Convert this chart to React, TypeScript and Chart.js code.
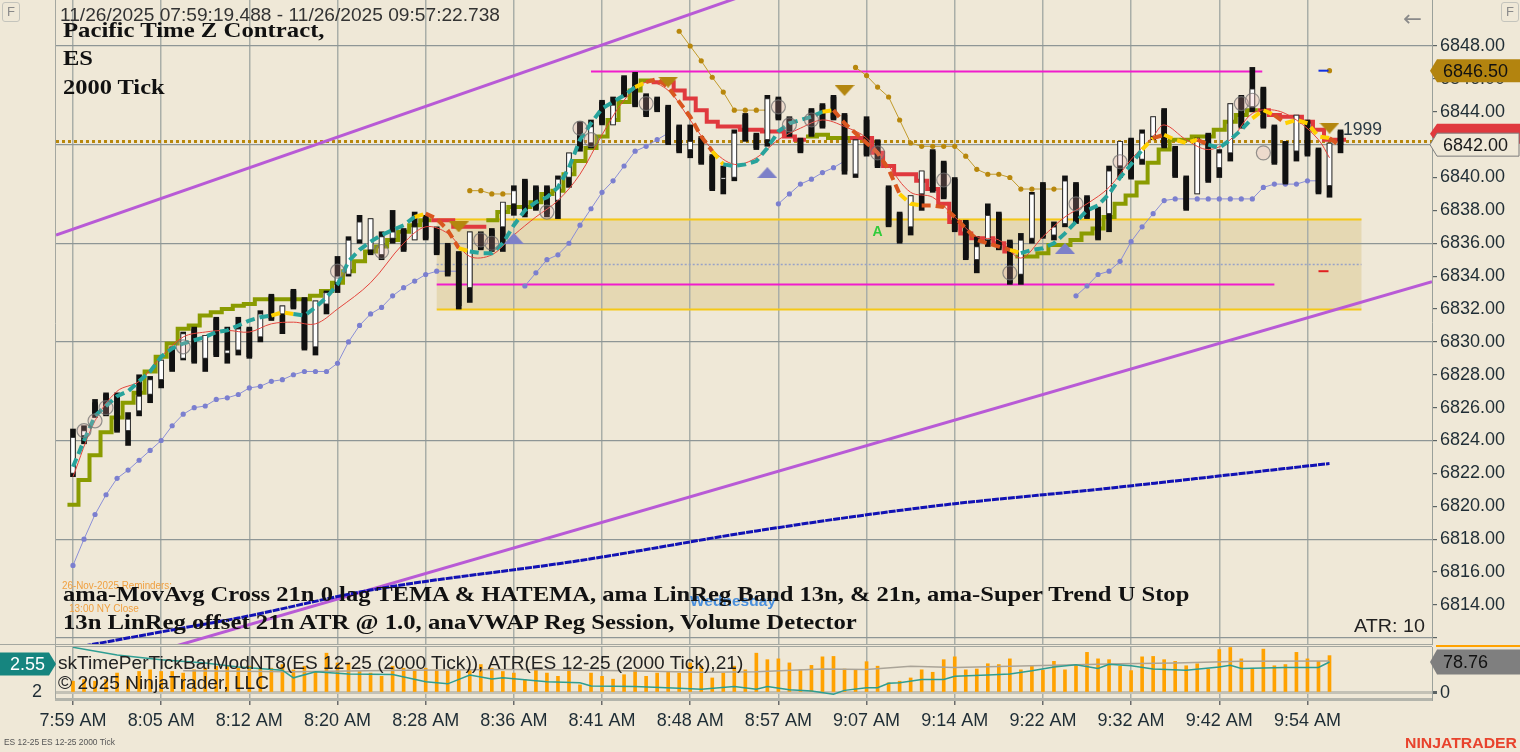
import React, { useEffect, useRef } from 'react';
import { Chart, registerables } from 'chart.js';

Chart.register(...registerables);

const BG = '#efe8d7';
const SANS = "'Liberation Sans', Arial, sans-serif";
const SERIF = "'Liberation Serif', 'Times New Roman', serif";

// ---------------- data ----------------
const timeLabels = ['7:59 AM', '8:05 AM', '8:12 AM', '8:20 AM', '8:28 AM', '8:36 AM', '8:41 AM', '8:48 AM', '8:57 AM', '9:07 AM', '9:14 AM', '9:22 AM', '9:32 AM', '9:42 AM', '9:54 AM'];
const timeLabelBars = [0, 8, 16, 24, 32, 40, 48, 56, 64, 72, 80, 88, 96, 104, 112];
const priceTicks = [6812, 6814, 6816, 6818, 6820, 6822, 6824, 6826, 6828, 6830, 6832, 6834, 6836, 6838, 6840, 6842, 6844, 6846, 6848];
const priceGridLevels = [6812, 6818, 6824, 6830, 6836, 6842, 6848];

const opens = [6822.0, 6824.3, 6826.3, 6826.8, 6826.8, 6824.6, 6825.8, 6826.8, 6827.7, 6829.6,
  6829.0, 6830.8, 6829.0, 6831.4, 6829.3, 6829.5, 6830.8, 6830.3, 6832.8, 6831.7,
  6833.1, 6832.6, 6829.7, 6832.3, 6833.6, 6834.1, 6836.2, 6835.6, 6835.3, 6836.3,
  6836.8, 6836.2, 6837.6, 6836.9, 6835.9, 6835.4, 6833.3, 6836.6, 6836.8, 6837.0,
  6838.4, 6839.8, 6839.4, 6839.4, 6838.6, 6840.0, 6843.3, 6842.1, 6844.6, 6843.2,
  6846.1, 6846.3, 6845.0, 6844.8, 6844.3, 6843.1, 6841.7, 6842.4, 6841.3, 6839.9,
  6840.0, 6843.8, 6842.6, 6842.3, 6844.8, 6843.6, 6842.3, 6844.1, 6844.4, 6844.9,
  6843.8, 6840.2, 6843.5, 6842.2, 6839.4, 6837.8, 6837.0, 6839.0, 6841.6, 6840.9,
  6839.9, 6837.3, 6835.0, 6836.2, 6837.8, 6836.1, 6834.1, 6836.3, 6839.6, 6836.5,
  6837.2, 6839.6, 6838.8, 6838.1, 6837.8, 6840.7, 6842.3, 6841.1, 6842.5, 6844.1,
  6841.8, 6840.0, 6839.0, 6842.6, 6840.6, 6841.5, 6844.9, 6844.3, 6845.4, 6843.1,
  6842.1, 6841.6, 6843.4, 6841.7, 6839.5, 6842.8];
const highs = [6824.7, 6824.9, 6826.5, 6826.9, 6826.9, 6825.7, 6828.0, 6827.9, 6828.9, 6829.7,
  6830.6, 6830.9, 6830.4, 6831.5, 6830.9, 6831.5, 6830.9, 6831.9, 6832.9, 6832.2,
  6833.2, 6832.7, 6832.5, 6833.1, 6835.2, 6836.4, 6837.7, 6837.5, 6836.7, 6838.0,
  6836.9, 6837.9, 6837.7, 6837.0, 6836.0, 6835.5, 6836.7, 6836.7, 6836.9, 6838.5,
  6839.5, 6839.9, 6839.5, 6839.5, 6840.1, 6841.5, 6843.4, 6843.5, 6844.7, 6844.9,
  6846.2, 6846.4, 6845.1, 6844.9, 6844.4, 6843.2, 6843.2, 6842.5, 6841.4, 6840.7,
  6842.9, 6843.9, 6842.7, 6845.0, 6844.9, 6843.7, 6842.4, 6844.2, 6844.5, 6845.0,
  6843.9, 6842.3, 6843.7, 6842.3, 6839.5, 6837.9, 6838.9, 6840.4, 6841.7, 6841.0,
  6840.0, 6837.4, 6836.4, 6838.4, 6837.9, 6836.2, 6836.6, 6839.1, 6839.7, 6837.3,
  6840.1, 6839.7, 6838.9, 6838.2, 6840.7, 6842.2, 6842.4, 6842.9, 6843.7, 6844.2,
  6841.9, 6840.1, 6842.4, 6842.7, 6841.7, 6844.5, 6845.0, 6846.7, 6845.5, 6843.2,
  6842.2, 6843.8, 6843.5, 6841.8, 6842.1, 6842.9];
const lows = [6821.8, 6823.8, 6825.4, 6825.5, 6824.5, 6823.7, 6825.5, 6826.3, 6827.2, 6828.2,
  6828.9, 6828.7, 6828.2, 6829.1, 6828.7, 6829.2, 6829.0, 6830.0, 6831.3, 6830.5,
  6832.0, 6829.5, 6829.2, 6831.7, 6833.0, 6834.0, 6836.0, 6835.3, 6835.0, 6836.0,
  6835.5, 6836.2, 6836.2, 6835.3, 6834.0, 6832.0, 6832.4, 6835.6, 6835.5, 6835.5,
  6837.7, 6837.6, 6838.0, 6837.6, 6837.5, 6839.4, 6841.6, 6841.8, 6843.2, 6843.2,
  6844.9, 6844.3, 6843.7, 6844.0, 6842.0, 6841.5, 6841.2, 6840.8, 6839.2, 6839.0,
  6839.8, 6842.2, 6841.7, 6841.9, 6843.5, 6842.5, 6841.5, 6842.5, 6843.0, 6843.5,
  6840.2, 6840.0, 6841.3, 6840.6, 6837.0, 6836.0, 6836.5, 6838.0, 6839.1, 6838.7,
  6836.7, 6835.0, 6834.2, 6835.8, 6835.6, 6833.5, 6833.5, 6836.0, 6836.3, 6836.2,
  6837.0, 6837.2, 6837.5, 6836.2, 6836.7, 6840.0, 6839.9, 6840.8, 6842.3, 6841.8,
  6840.0, 6838.0, 6839.0, 6839.7, 6840.0, 6841.0, 6843.0, 6844.0, 6843.0, 6840.8,
  6839.6, 6841.0, 6841.3, 6839.0, 6838.8, 6841.5];
const closes = [6824.2, 6824.6, 6825.6, 6825.6, 6824.6, 6825.3, 6826.7, 6827.7, 6828.9, 6828.3,
  6830.5, 6828.8, 6830.4, 6829.2, 6829.5, 6830.8, 6829.1, 6831.7, 6831.4, 6832.2,
  6832.1, 6829.6, 6832.5, 6833.0, 6834.0, 6836.2, 6837.3, 6837.5, 6836.4, 6836.7,
  6835.6, 6837.0, 6836.3, 6835.4, 6834.1, 6832.2, 6836.7, 6835.7, 6835.6, 6838.5,
  6839.2, 6837.8, 6838.1, 6837.8, 6839.9, 6841.5, 6841.8, 6843.1, 6843.3, 6844.4,
  6845.0, 6844.4, 6843.8, 6844.1, 6842.1, 6841.6, 6842.2, 6840.9, 6839.3, 6840.0,
  6842.7, 6842.3, 6841.8, 6844.8, 6843.6, 6842.6, 6841.6, 6842.6, 6843.1, 6843.6,
  6840.4, 6842.3, 6841.4, 6840.7, 6837.1, 6836.1, 6838.9, 6840.4, 6839.2, 6838.8,
  6836.8, 6835.1, 6835.8, 6837.7, 6835.7, 6833.6, 6836.2, 6839.0, 6836.4, 6837.0,
  6839.8, 6837.3, 6837.6, 6836.3, 6840.4, 6842.2, 6840.0, 6842.7, 6843.7, 6841.9,
  6840.1, 6838.1, 6842.4, 6839.8, 6841.5, 6844.5, 6843.1, 6845.4, 6843.1, 6840.9,
  6839.7, 6843.8, 6841.4, 6839.1, 6842.1, 6842.0];

// Super Trend U Stop (g = up / olive, r = down / red)
const superTrend = [6820.1, 6821.6, 6823.1, 6824.5, 6825.4, 6826.3, 6826.9, 6828.2, 6829.1, 6829.9,
  6830.8, 6831.0, 6831.6, 6831.8, 6832.0, 6832.2, 6832.3, 6832.6, 6832.6, 6832.6,
  6832.6, 6832.6, 6832.8, 6833.1, 6833.6, 6834.3, 6834.9, 6835.5, 6835.8, 6836.2,
  6836.7, 6837.1, 6837.4, 6837.4, 6837.4, 6837.0, 6837.0, 6837.0, 6837.4, 6837.9,
  6838.2, 6838.2, 6838.5, 6839.0, 6839.2, 6840.2, 6841.0, 6841.8, 6842.5, 6843.5,
  6844.6, 6845.3, 6845.9, 6845.8, 6845.8, 6845.3, 6844.8, 6844.1, 6843.4, 6843.1,
  6843.1, 6842.9, 6842.9, 6842.8, 6842.8, 6842.5, 6842.3, 6842.5, 6842.6, 6842.4,
  6842.4, 6842.4, 6842.4, 6841.5, 6840.7, 6840.2, 6840.2, 6839.8, 6839.3, 6838.4,
  6837.3, 6836.6, 6836.3, 6836.3, 6836.0, 6835.5, 6835.2, 6835.2, 6835.4, 6835.9,
  6835.9, 6836.2, 6836.6, 6836.9, 6837.6, 6838.4, 6838.9, 6839.7, 6840.9, 6841.7,
  6842.3, 6842.3, 6842.5, 6842.5, 6842.9, 6843.4, 6843.8, 6844.1, 6844.1, 6843.8,
  6843.7, 6843.7, 6843.4, 6842.9, 6842.3, 6842.3];
const superTrendDir =
  'ggggggggggggggggggggggggggggggggg' + 'rrrrr' + 'ggggggggggggggg' + 'rrrrrrrrrrrrrr' +
  'gggg' + 'rrrrrrrrrrrrrrr' + 'gggggggggggggggggggggg' + 'rrrrrrrr';

// 21n zero-lag TEMA (t = rising teal, o = falling orange, y = flat yellow)
const tema = [6822.4, 6824.0, 6825.5, 6826.1, 6826.7, 6827.0, 6827.6, 6828.2, 6829.1, 6829.6,
  6829.9, 6830.1, 6830.3, 6830.6, 6830.7, 6831.0, 6831.3, 6831.5, 6831.6, 6831.8,
  6831.7, 6831.6, 6832.1, 6832.7, 6833.5, 6834.9, 6835.6, 6836.1, 6836.5, 6836.8,
  6837.1, 6837.6, 6837.8, 6837.5, 6836.8, 6835.7, 6835.5, 6835.4, 6835.4, 6836.0,
  6837.1, 6838.0, 6838.5, 6838.8, 6839.4, 6840.6, 6842.3, 6843.3, 6844.2, 6844.6,
  6845.0, 6845.5, 6845.8, 6846.0, 6845.5, 6844.6, 6843.7, 6842.5, 6841.6, 6840.8,
  6840.7, 6840.8, 6841.0, 6841.8, 6842.8, 6843.3, 6843.5, 6843.7, 6844.0, 6844.1,
  6843.3, 6842.7, 6842.1, 6841.5, 6840.5, 6839.0, 6838.4, 6838.3, 6838.3, 6838.2,
  6837.6, 6836.9, 6836.2, 6836.0, 6835.8, 6835.6, 6835.4, 6835.6, 6835.7, 6836.0,
  6836.6, 6837.3, 6838.0, 6838.3, 6839.0, 6840.0, 6840.8, 6841.7, 6842.4, 6842.6,
  6842.3, 6842.1, 6842.3, 6842.0, 6841.8, 6842.3, 6842.9, 6843.6, 6844.1, 6843.8,
  6843.3, 6843.5, 6843.3, 6842.5, 6842.4, 6841.9];
const temaDir =
  'ttttttttttttttttttt' + 'yy' + 'ttttttttttt' + 'y' + 'ooo' + 'y' + 'ttttttttttttttt' + 'y' +
  'oooooo' + 'y' + 'ttttttttt' + 'y' + 'oooooo' + 'yy' + 'oooooooo' + 'y' + 'ttttttttttt' + 'y' +
  'o' + 'yyy' + 'o' + 'tttt' + 'yy' + 'o' + 'yyyy' + 'o';

// 13n LinReg (thin red)
const linRegBars = [0, 2, 4, 6, 8, 10, 12, 14, 16, 18, 20, 22, 24, 27, 30, 32, 34, 36, 38, 40, 42, 44, 46, 48, 50, 52, 54, 56, 58, 60, 62, 64, 66, 68, 70, 72, 74, 76, 78, 80, 82, 84, 86, 88, 90, 92, 94, 96, 98, 99, 101, 103, 105, 107, 109, 111, 113, 114];
const linRegValues = [6821.8, 6825.2, 6827.0, 6827.6, 6829.1, 6830.3, 6830.6, 6830.7, 6830.6, 6831.1, 6831.2, 6831.1, 6832.0, 6833.6, 6836.0, 6837.0, 6836.6, 6835.2, 6835.3, 6836.5, 6837.6, 6838.6, 6840.2, 6842.6, 6844.7, 6845.8, 6845.3, 6843.5, 6841.7, 6840.8, 6841.2, 6842.3, 6843.0, 6843.5, 6843.1, 6842.4, 6840.7, 6839.1, 6838.8, 6837.6, 6836.4, 6836.2, 6835.1, 6836.4, 6837.6, 6838.4, 6839.4, 6841.1, 6842.5, 6843.2, 6842.3, 6841.7, 6842.3, 6843.9, 6844.1, 6843.5, 6842.3, 6841.2];

// trailing stop dots
const lowerStop = [6816.4, 6818.0, 6819.5, 6820.7, 6821.7, 6822.2, 6822.8, 6823.4, 6824.0, 6824.9,
  6825.6, 6826.0, 6826.1, 6826.5, 6826.6, 6826.8, 6827.2, 6827.3, 6827.6, 6827.7,
  6828.0, 6828.2, 6828.2, 6828.2, 6828.7, 6830.0, 6831.0, 6831.7, 6832.1, 6832.8,
  6833.3, 6833.7, 6834.1, 6834.3, 6834.3, 6834.3, null, null, null, null,
  null, 6833.4, 6834.2, 6835.0, 6835.3, 6836.0, 6837.1, 6838.1, 6839.1, 6839.8,
  6840.7, 6841.6, 6841.9, 6842.3, 6842.7, null, null, null, null, null,
  null, null, null, null, 6838.4, 6839.0, 6839.6, 6839.9, 6840.3, 6840.6,
  6841.0, null, null, null, null, null, null, null, null, null,
  null, null, null, null, null, null, null, null, null, null,
  null, 6832.8, 6833.4, 6834.1, 6834.3, 6834.9, 6836.1, 6837.0, 6837.8, 6838.6,
  6838.7, 6838.7, 6838.7, 6838.7, 6838.7, 6838.7, 6838.7, 6838.7, 6839.4, 6839.6,
  6839.6, 6839.6, 6839.8, 6839.8, null, null];
const upperStop = [null, null, null, null, null, null, null, null, null, null,
  null, null, null, null, null, null, null, null, null, null,
  null, null, null, null, null, null, null, null, null, null,
  null, null, null, null, null, null, 6839.2, 6839.2, 6839.0, 6839.0,
  6839.0, null, null, null, null, null, null, null, null, null,
  null, null, null, null, null, 6848.9, 6848.0, 6847.1, 6846.1, 6845.2,
  6844.1, 6844.1, 6844.1, 6844.1, null, null, null, null, null, null,
  null, 6846.7, 6846.2, 6845.5, 6844.9, 6843.5, 6842.1, 6841.9, 6841.9, 6841.9,
  6841.9, 6841.3, 6840.5, 6840.2, 6840.2, 6840.0, 6839.3, 6839.3, 6839.3, 6839.3,
  6839.3, null, null, null, null, null, null, null, null, null,
  null, null, null, null, null, null, null, null, null, null,
  null, null, null, null, 6846.5, null];

// anaVWAP
const vwapBars = [1, 10, 15, 27, 46, 62, 78, 94, 114];
const vwapValues = [6811.5, 6812.6, 6813.2, 6814.9, 6816.7, 6818.5, 6820.0, 6821.1, 6822.6];

// channel lines
const upperChannelBars = [-1.54, 70];
const upperChannelValues = [6836.5, 6853.2];
const lowerChannelBars = [5, 123.3];
const lowerChannelValues = [6810.66, 6833.67];

// zone and levels
const zoneBars = [33.0, 116.9];
const zonePrices = [6837.5, 6832.0];
const zoneMidPrice = 6834.75;
const magentaTopBars = [47.0, 107.9];
const magentaTopPrice = 6846.5;
const magentaBottomBars = [33.0, 109.0];
const magentaBottomPrice = 6833.5;
const goldLevel = 6842.2;
const volumeMarkBar = 114;
const volumeMarkHigh = 6846.5;
const volumeMarkLow = 6834.3;

// signals
const downSignalBars = [35, 54, 70, 114];
const downSignalPrices = [6837.0, 6845.8, 6845.3, 6843.0];
const upSignalBars = [40, 63, 90];
const upSignalPrices = [6836.3, 6840.3, 6835.7];
const letterSignalBar = 73;
const letterSignalPrice = 6836.7;
const ringBars = [1, 2, 3, 10, 24, 28, 37, 38, 43, 46, 47, 52, 64, 65, 67, 73, 79, 85, 91, 95, 106, 107, 108];
const ringPrices = [6824.6, 6825.2, 6826.0, 6829.7, 6834.3, 6835.5, 6836.2, 6836.0, 6837.9, 6843.0, 6842.3, 6844.5, 6844.3, 6843.2, 6843.5, 6841.5, 6839.85, 6834.2, 6838.4, 6840.96, 6844.5, 6844.7, 6841.5];

// lower panel
const timePerTick = [29, 33, 29, 33, 49, 33, 53, 57, 53, 53,
  49, 57, 61, 66, 66, 61, 66, 61, 61, 70,
  57, 66, 53, 98, 74, 74, 53, 49, 41, 66,
  61, 57, 61, 57, 57, 57, 57, 70, 61, 53,
  49, 33, 57, 49, 41, 57, 20, 49, 41, 34,
  45, 56, 41, 49, 53, 49, 74, 66, 37, 49,
  66, 57, 98, 82, 84, 74, 57, 68, 89, 90,
  59, 57, 77, 66, 25, 29, 37, 57, 51, 82,
  89, 57, 59, 72, 70, 84, 57, 67, 56, 78,
  57, 70, 100, 84, 82, 66, 55, 89, 90, 82,
  78, 67, 72, 59, 107, 112, 84, 61, 108, 67,
  70, 100, 84, 78, 92];
const atrBars = [0, 4, 8, 12, 15, 19, 20, 22, 25, 29, 32, 34, 36, 38, 39, 43, 46, 47, 51, 55, 57, 60, 62, 63, 65, 67, 69, 70, 72, 73, 74, 75, 77, 79, 80, 83, 85, 87, 89, 91, 93, 94, 96, 98, 101, 104, 105, 106, 110, 113, 114];
const atrValues = [2.82, 2.68, 2.59, 2.53, 2.46, 2.40, 2.26, 2.37, 2.33, 2.32, 2.19, 2.15, 2.31, 2.24, 2.26, 2.19, 2.17, 2.11, 2.10, 2.07, 2.05, 2.10, 2.05, 2.10, 2.04, 2.02, 1.96, 2.03, 2.08, 2.08, 2.16, 2.17, 2.23, 2.23, 2.29, 2.31, 2.33, 2.39, 2.46, 2.50, 2.43, 2.51, 2.48, 2.42, 2.40, 2.46, 2.49, 2.43, 2.45, 2.45, 2.55];
const avgBars = [10, 20, 30, 40, 50, 57, 62, 68, 72, 76, 80, 87, 95, 100, 106, 114];
const avgValues = [55, 52, 56, 58, 55, 51, 52, 59, 58, 66, 63, 67, 72, 74, 78, 78.76];

// ---------------- helpers ----------------
const X_MIN = -1.54;
const X_MAX = 123.3;
const Y_MIN = 6811.56;
const Y_MAX = 6850.8;

const temaColors: Record<string, string> = { t: '#27a39c', o: '#d9561f', y: '#ffd000' };

function stepPoints(dir: string) {
  const pts: any[] = [];
  for (let i = 0; i < superTrend.length; i++) {
    if (superTrendDir[i] === dir) {
      pts.push({ x: i - 0.5, y: superTrend[i] }, { x: i + 0.5, y: superTrend[i] });
    } else if (pts.length && pts[pts.length - 1].y !== null) {
      pts.push({ x: i, y: null });
    }
  }
  return pts;
}

function triImg(color: string, down: boolean) {
  const c = document.createElement('canvas');
  c.width = 20;
  c.height = 11;
  const g = c.getContext('2d')!;
  g.fillStyle = color;
  g.beginPath();
  if (down) {
    g.moveTo(0, 0); g.lineTo(20, 0); g.lineTo(10, 11);
  } else {
    g.moveTo(10, 0); g.lineTo(20, 11); g.lineTo(0, 11);
  }
  g.closePath();
  g.fill();
  return c;
}

function tag(ctx: CanvasRenderingContext2D, tip: number, end: number, yc: number, h: number, fill: string, stroke: string | null, text: string, color: string, textX: number) {
  const notch = end > tip ? 7 : -7;
  ctx.save();
  ctx.beginPath();
  ctx.moveTo(tip, yc);
  ctx.lineTo(tip + notch, yc - h / 2);
  ctx.lineTo(end, yc - h / 2);
  ctx.lineTo(end, yc + h / 2);
  ctx.lineTo(tip + notch, yc + h / 2);
  ctx.closePath();
  ctx.fillStyle = fill;
  ctx.fill();
  if (stroke) {
    ctx.strokeStyle = stroke;
    ctx.lineWidth = 1;
    ctx.stroke();
  }
  if (text) {
    ctx.fillStyle = color;
    ctx.font = `18px ${SANS}`;
    ctx.textBaseline = 'middle';
    ctx.textAlign = 'left';
    ctx.fillText(text, textX, yc + 1);
  }
  ctx.restore();
}

const noVPad = (s: any) => { s.paddingTop = 0; s.paddingBottom = 0; };

const pricePlugin = {
  id: 'priceDecor',
  beforeDraw(chart: any) {
    const { ctx, scales } = chart;
    const x = scales.x, y = scales.y;
    const x0 = x.getPixelForValue(zoneBars[0]);
    const x1 = x.getPixelForValue(zoneBars[1]);
    const y0 = y.getPixelForValue(zonePrices[0]);
    const y1 = y.getPixelForValue(zonePrices[1]);
    ctx.save();
    ctx.fillStyle = '#e5d8b3';
    ctx.fillRect(x0, y0, x1 - x0, y1 - y0);
    ctx.restore();
  },
  beforeDatasetsDraw(chart: any) {
    const { ctx, chartArea: a, scales } = chart;
    const x = scales.x, y = scales.y;
    ctx.save();
    ctx.beginPath();
    ctx.rect(a.left, a.top, a.right - a.left, a.bottom - a.top);
    ctx.clip();
    const hline = (b0: number, b1: number, p: number, color: string, w: number, dash: number[]) => {
      const py = Math.round(y.getPixelForValue(p)) + 0.5;
      ctx.beginPath();
      ctx.setLineDash(dash);
      ctx.strokeStyle = color;
      ctx.lineWidth = w;
      ctx.moveTo(x.getPixelForValue(b0), py);
      ctx.lineTo(x.getPixelForValue(b1), py);
      ctx.stroke();
    };
    hline(zoneBars[0], zoneBars[1], zonePrices[0], '#f5c816', 2, []);
    hline(zoneBars[0], zoneBars[1], zonePrices[1], '#f5c816', 2, []);
    hline(zoneBars[0], zoneBars[1], zoneMidPrice, '#98a2c8', 1.5, [2, 2]);
    hline(magentaTopBars[0], magentaTopBars[1], magentaTopPrice, '#f01ccc', 2, []);
    hline(magentaBottomBars[0], magentaBottomBars[1], magentaBottomPrice, '#f01ccc', 2, []);
    hline(X_MIN, X_MAX, goldLevel, '#b8870c', 3, [3, 3]);
    ctx.restore();
  },
  afterDatasetsDraw(chart: any) {
    const { ctx, scales } = chart;
    const x = scales.x, y = scales.y;
    ctx.save();
    const mx = x.getPixelForValue(volumeMarkBar);
    ctx.lineWidth = 2;
    ctx.strokeStyle = '#1030e0';
    ctx.beginPath();
    ctx.moveTo(mx - 11, y.getPixelForValue(volumeMarkHigh));
    ctx.lineTo(mx - 1, y.getPixelForValue(volumeMarkHigh));
    ctx.stroke();
    ctx.strokeStyle = '#e02020';
    ctx.beginPath();
    ctx.moveTo(mx - 11, y.getPixelForValue(volumeMarkLow));
    ctx.lineTo(mx - 1, y.getPixelForValue(volumeMarkLow));
    ctx.stroke();
    ctx.fillStyle = '#2fcc3a';
    ctx.font = `bold 14px ${SANS}`;
    ctx.textAlign = 'center';
    ctx.textBaseline = 'middle';
    ctx.fillText('A', x.getPixelForValue(letterSignalBar), y.getPixelForValue(letterSignalPrice));
    ctx.restore();
  },
  afterDraw(chart: any) {
    const { ctx, chartArea: a, scales } = chart;
    const y = scales.y;
    const lastClose = closes[closes.length - 1];
    const lastStop = superTrend[superTrend.length - 1];
    const lastMark = upperStop[upperStop.length - 2] as number;
    tag(ctx, a.right - 2, 1520, y.getPixelForValue(lastStop) - 6, 20, '#e0393e', null, '', '#000', 0);
    tag(ctx, a.right - 2, 1519, y.getPixelForValue(lastClose), 23, BG, '#7d7d7d', lastClose.toFixed(2), '#1a1a1a', 1443);
    tag(ctx, a.right - 2, 1520, y.getPixelForValue(lastMark), 23, '#b3840f', null, lastMark.toFixed(2), '#111', 1443);
    ctx.save();
    ctx.strokeStyle = '#a4a7a0';
    ctx.lineWidth = 1;
    ctx.beginPath();
    ctx.moveTo(55.5, 0);
    ctx.lineTo(55.5, a.bottom + 2);
    ctx.stroke();
    ctx.restore();
  },
};

const lowerPlugin = {
  id: 'lowerDecor',
  afterDraw(chart: any) {
    const { ctx, chartArea: a, scales } = chart;
    ctx.save();
    ctx.strokeStyle = '#a4a7a0';
    ctx.lineWidth = 1;
    ctx.beginPath();
    ctx.moveTo(0, a.top - 2.5); ctx.lineTo(a.right, a.top - 2.5);
    ctx.moveTo(a.left, a.top - 0.5); ctx.lineTo(a.right, a.top - 0.5);
    ctx.moveTo(55.5, a.top - 3); ctx.lineTo(55.5, a.bottom);
    ctx.stroke();
    ctx.restore();
    const lastAtr = atrValues[atrValues.length - 1];
    const lastAvg = avgValues[avgValues.length - 1];
    const yR = scales.yR, yL = scales.yL;
    tag(ctx, a.right - 2, 1520, yR.getPixelForValue(lastAvg) + 1, 25, '#7f7f7f', null, lastAvg.toFixed(2), '#111', 1443);
    ctx.save();
    ctx.fillStyle = '#ffa200';
    ctx.fillRect(a.right + 4, a.top - 2, 1520 - a.right - 4, 2);
    ctx.restore();
    tag(ctx, a.left, 0, yL.getPixelForValue(lastAtr) + 2, 23, '#16857f', null, lastAtr.toFixed(2), '#ffffff', 10);
  },
};

function priceConfig(): any {
  const idx = opens.map((_, i) => i);
  const downTri = triImg('#b3860f', true);
  const upTri = triImg('#7d80c8', false);
  return {
    type: 'bar',
    data: {
      datasets: [
        {
          type: 'line', order: 0, showLine: false,
          data: downSignalBars.map((b, k) => ({ x: b, y: downSignalPrices[k] })),
          pointStyle: downTri, pointRadius: 6,
        },
        {
          type: 'line', order: 0, showLine: false,
          data: upSignalBars.map((b, k) => ({ x: b, y: upSignalPrices[k] })),
          pointStyle: upTri, pointRadius: 6,
        },
        {
          type: 'line', order: 1, showLine: false,
          data: ringBars.map((b, k) => ({ x: b, y: ringPrices[k] })),
          pointRadius: 7, pointBorderWidth: 1.2,
          pointBorderColor: 'rgba(115,115,115,0.75)', pointBackgroundColor: 'rgba(232,170,170,0.22)',
        },
        {
          type: 'line', order: 2,
          data: idx.map((i) => ({ x: i, y: tema[i] })),
          borderWidth: 4, borderDash: [9, 5], pointRadius: 0, borderColor: temaColors.t,
          segment: { borderColor: (c: any) => temaColors[temaDir[c.p1DataIndex]] },
        },
        {
          type: 'line', order: 3,
          data: linRegBars.map((b, k) => ({ x: b, y: linRegValues[k] })),
          borderWidth: 1, borderColor: '#e4453d', pointRadius: 0, tension: 0.35,
        },
        {
          type: 'bar', order: 4, grouped: false, barThickness: 5, borderSkipped: false,
          data: idx.map((i) => ({ x: i, y: [opens[i], closes[i]] })),
          backgroundColor: idx.map((i) => (closes[i] >= opens[i] ? '#ffffff' : '#111111')),
          borderColor: '#3a3a3a',
          borderWidth: idx.map((i) => (closes[i] >= opens[i] ? 1 : 0)),
        },
        {
          type: 'bar', order: 5, grouped: false, barThickness: 5,
          data: idx.map((i) => ({ x: i, y: [lows[i], highs[i]] })),
          backgroundColor: '#111111',
        },
        {
          type: 'line', order: 6, data: stepPoints('g'), borderColor: '#8a9b00', borderWidth: 4,
          pointRadius: 0, spanGaps: false, borderJoinStyle: 'miter',
        },
        {
          type: 'line', order: 7, data: stepPoints('r'), borderColor: '#e0393e', borderWidth: 4,
          pointRadius: 0, spanGaps: false, borderJoinStyle: 'miter',
        },
        {
          type: 'line', order: 8,
          data: idx.map((i) => ({ x: i, y: lowerStop[i] })),
          borderColor: '#8a8ed6', borderWidth: 1, pointRadius: 2.6, pointBorderWidth: 0,
          pointBackgroundColor: '#7b7fcf', spanGaps: false,
        },
        {
          type: 'line', order: 9,
          data: idx.map((i) => ({ x: i, y: upperStop[i] })),
          borderColor: '#c19a2a', borderWidth: 1, pointRadius: 2.6, pointBorderWidth: 0,
          pointBackgroundColor: '#b8870c', spanGaps: false,
        },
        {
          type: 'line', order: 10,
          data: vwapBars.map((b, k) => ({ x: b, y: vwapValues[k] })),
          borderColor: '#1212b4', borderWidth: 3, borderDash: [7, 1], pointRadius: 0,
          cubicInterpolationMode: 'monotone',
        },
        {
          type: 'line', order: 11,
          data: upperChannelBars.map((b, k) => ({ x: b, y: upperChannelValues[k] })),
          borderColor: '#b85ad6', borderWidth: 3, pointRadius: 0,
        },
        {
          type: 'line', order: 12,
          data: lowerChannelBars.map((b, k) => ({ x: b, y: lowerChannelValues[k] })),
          borderColor: '#b85ad6', borderWidth: 3, pointRadius: 0,
        },
      ],
    },
    options: {
      animation: false,
      responsive: false,
      maintainAspectRatio: false,
      events: [],
      layout: { autoPadding: false, padding: { left: 56, top: 0, right: 0, bottom: 2 } },
      plugins: { legend: { display: false }, tooltip: { enabled: false } },
      scales: {
        x: {
          type: 'linear', min: X_MIN, max: X_MAX, offset: false,
          grid: { color: '#a9aea8', lineWidth: 1.5, drawTicks: false, offset: false },
          border: { display: false },
          ticks: { display: false },
          afterBuildTicks: (s: any) => { s.ticks = timeLabelBars.map((v) => ({ value: v })); },
          afterFit: (s: any) => { s.height = 0; s.paddingLeft = 0; s.paddingRight = 0; },
        },
        y: {
          type: 'linear', position: 'right', min: Y_MIN, max: Y_MAX,
          afterBuildTicks: (s: any) => { s.ticks = priceTicks.map((v) => ({ value: v })); },
          afterFit: (s: any) => { s.width = 88; noVPad(s); },
          grid: {
            color: (c: any) => (c.tick && priceGridLevels.includes(c.tick.value) ? '#8e9696' : 'rgba(0,0,0,0)'),
            lineWidth: 1.2, tickLength: 5, tickColor: '#5c6464',
          },
          border: { display: true, color: '#9aa09a' },
          ticks: {
            autoSkip: false, padding: 3, color: '#1f2d35',
            font: { family: SANS, size: 18 },
            callback: (v: any) => (Number(v) === 6812 ? '' : Number(v).toFixed(2)),
          },
        },
      },
    },
    plugins: [pricePlugin],
  };
}

function lowerConfig(): any {
  return {
    type: 'bar',
    data: {
      datasets: [
        {
          type: 'line', order: 1, yAxisID: 'yL',
          data: atrBars.map((b, k) => ({ x: b, y: atrValues[k] })),
          borderColor: '#2e9d92', borderWidth: 1.5, pointRadius: 0,
        },
        {
          type: 'line', order: 2, yAxisID: 'yR',
          data: avgBars.map((b, k) => ({ x: b, y: avgValues[k] })),
          borderColor: '#aaa498', borderWidth: 1.5, pointRadius: 0,
        },
        {
          type: 'bar', order: 3, yAxisID: 'yR', grouped: false, barThickness: 3,
          data: timePerTick.map((v, i) => ({ x: i, y: v })),
          backgroundColor: '#ffa200',
        },
      ],
    },
    options: {
      animation: false,
      responsive: false,
      maintainAspectRatio: false,
      events: [],
      layout: { autoPadding: false, padding: { left: 0, top: 7, right: 0, bottom: 0 } },
      plugins: { legend: { display: false }, tooltip: { enabled: false } },
      scales: {
        x: {
          type: 'linear', min: X_MIN, max: X_MAX, offset: false,
          grid: { color: '#a9aea8', lineWidth: 1.5, tickLength: 6, tickColor: '#6b6b6b', offset: false },
          border: { display: true, color: '#b3b4ab', width: 3 },
          afterBuildTicks: (s: any) => { s.ticks = timeLabelBars.map((v) => ({ value: v })); },
          afterFit: (s: any) => { s.height = 53; s.paddingLeft = 0; s.paddingRight = 0; },
          ticks: {
            autoSkip: false, maxRotation: 0, padding: 5, color: '#1f2d35',
            font: { family: SANS, size: 18 },
            callback: (v: any) => {
              const k = timeLabelBars.indexOf(Number(v));
              return k >= 0 ? timeLabels[k] : '';
            },
          },
        },
        yL: {
          type: 'linear', position: 'left', min: 1.872, max: 2.825,
          afterBuildTicks: (s: any) => { s.ticks = [{ value: 2 }]; },
          afterFit: (s: any) => { s.width = 56; noVPad(s); },
          grid: { display: false },
          border: { display: false },
          ticks: { padding: 6, color: '#1f2d35', font: { family: SANS, size: 18 } },
        },
        yR: {
          type: 'linear', position: 'right', min: -14.8, max: 113.2,
          afterBuildTicks: (s: any) => { s.ticks = [{ value: 0 }]; },
          afterFit: (s: any) => { s.width = 88; noVPad(s); },
          grid: { color: '#c3c1b5', lineWidth: 3, tickLength: 5, tickColor: '#5c6464' },
          border: { display: true, color: '#9aa09a' },
          ticks: { padding: 3, color: '#1f2d35', font: { family: SANS, size: 18 } },
        },
      },
    },
    plugins: [lowerPlugin],
  };
}

// ---------------- text overlay ----------------
let measureCtx: CanvasRenderingContext2D | null = null;
function measure(text: string, font: string) {
  if (!measureCtx) measureCtx = document.createElement('canvas').getContext('2d');
  measureCtx!.font = font;
  return measureCtx!.measureText(text).width;
}

type TextSpec = { t: string; x: number; b: number; s: number; f: string; w?: number; c: string; width?: number; z?: number };

const overlayTexts: TextSpec[] = [
  { t: '11/26/2025 07:59:19.488 - 11/26/2025 09:57:22.738', x: 60, b: 21.5, s: 17.5, f: SANS, c: '#333333', width: 440 },
  { t: 'Wednesday', x: 690, b: 606, s: 15, f: SANS, w: 700, c: '#4a8fdc', width: 86, z: 1 },
  { t: 'Pacific Time Z Contract,', x: 63, b: 38, s: 22, f: SERIF, w: 700, c: '#111111', width: 262 },
  { t: 'ES', x: 63, b: 66, s: 22, f: SERIF, w: 700, c: '#111111', width: 30 },
  { t: '2000 Tick', x: 63, b: 95, s: 22, f: SERIF, w: 700, c: '#111111', width: 102 },
  { t: '26-Nov-2025 Reminders:', x: 62, b: 589, s: 10.5, f: SANS, c: '#f0a040', width: 110 },
  { t: '13:00 NY Close', x: 69, b: 612, s: 10.5, f: SANS, c: '#f0a040', width: 70 },
  { t: 'ama-MovAvg Cross 21n 0 lag TEMA & HATEMA, ama LinReg Band 13n, & 21n, ama-Super Trend U Stop', x: 63, b: 602, s: 21, f: SERIF, w: 700, c: '#111111', width: 1129 },
  { t: '13n LinReg offset 21n ATR @ 1.0, anaVWAP Reg Session, Volume Detector', x: 63, b: 630, s: 21, f: SERIF, w: 700, c: '#111111', width: 797 },
  { t: 'ATR: 10', x: 1354, b: 633, s: 17.5, f: SANS, c: '#222222', width: 71 },
  { t: '1999', x: 1343, b: 135, s: 18, f: SANS, c: '#2a3a44', width: 39 },
  { t: 'skTimePerTickBarModNT8(ES 12-25 (2000 Tick)), ATR(ES 12-25 (2000 Tick),21)', x: 58, b: 669, s: 18, f: SANS, c: '#222222', width: 687 },
  { t: '© 2025 NinjaTrader, LLC', x: 58, b: 689.5, s: 18, f: SANS, c: '#222222', width: 211 },
  { t: 'ES 12-25 ES 12-25 2000 Tick', x: 4, b: 745.5, s: 9, f: SANS, c: '#555555', width: 111 },
  { t: 'NINJATRADER', x: 1405, b: 747.5, s: 14, f: SANS, w: 700, c: '#e8432d', width: 112 },
  { t: '←', x: 1403, b: 27, s: 22, f: "'DejaVu Sans', sans-serif", c: '#8a8a8a', width: 19 },
];

function FitText({ spec }: { spec: TextSpec }) {
  const weight = spec.w || 400;
  const font = `${weight} ${spec.s}px ${spec.f}`;
  let sx = 1;
  if (spec.width) {
    const m = measure(spec.t, font);
    if (m > 0) sx = Math.max(0.6, Math.min(1.6, spec.width / m));
  }
  return (
    <div
      style={{
        position: 'absolute', left: spec.x, top: spec.b - 0.845 * spec.s,
        font, lineHeight: `${spec.s}px`, color: spec.c, whiteSpace: 'nowrap',
        transform: `scaleX(${sx})`, transformOrigin: 'left top', zIndex: spec.z ?? 2,
      }}
    >
      {spec.t}
    </div>
  );
}

function FBox({ left }: { left: number }) {
  return (
    <div
      style={{
        position: 'absolute', left, top: 2, width: 16, height: 18, border: '1px solid #c4c4bc',
        borderRadius: 3, color: '#8a8a8a', font: `13px ${SANS}`, lineHeight: '18px', textAlign: 'center',
        zIndex: 2,
      }}
    >
      F
    </div>
  );
}

export default function App() {
  const priceRef = useRef<HTMLCanvasElement>(null);
  const lowerRef = useRef<HTMLCanvasElement>(null);

  useEffect(() => {
    document.body.style.margin = '0';
    const c1 = new Chart(priceRef.current!, priceConfig());
    const c2 = new Chart(lowerRef.current!, lowerConfig());
    return () => {
      c1.destroy();
      c2.destroy();
    };
  }, []);

  return (
    <div style={{ position: 'relative', width: 1520, height: 752, background: BG, overflow: 'hidden' }}>
      <canvas ref={priceRef} width={1520} height={647} style={{ position: 'absolute', left: 0, top: 0, width: 1520, height: 647 }} />
      <canvas ref={lowerRef} width={1520} height={112} style={{ position: 'absolute', left: 0, top: 640, width: 1520, height: 112 }} />
      {overlayTexts.map((s, i) => (
        <FitText key={i} spec={s} />
      ))}
      <FBox left={2} />
      <FBox left={1501} />
    </div>
  );
}
